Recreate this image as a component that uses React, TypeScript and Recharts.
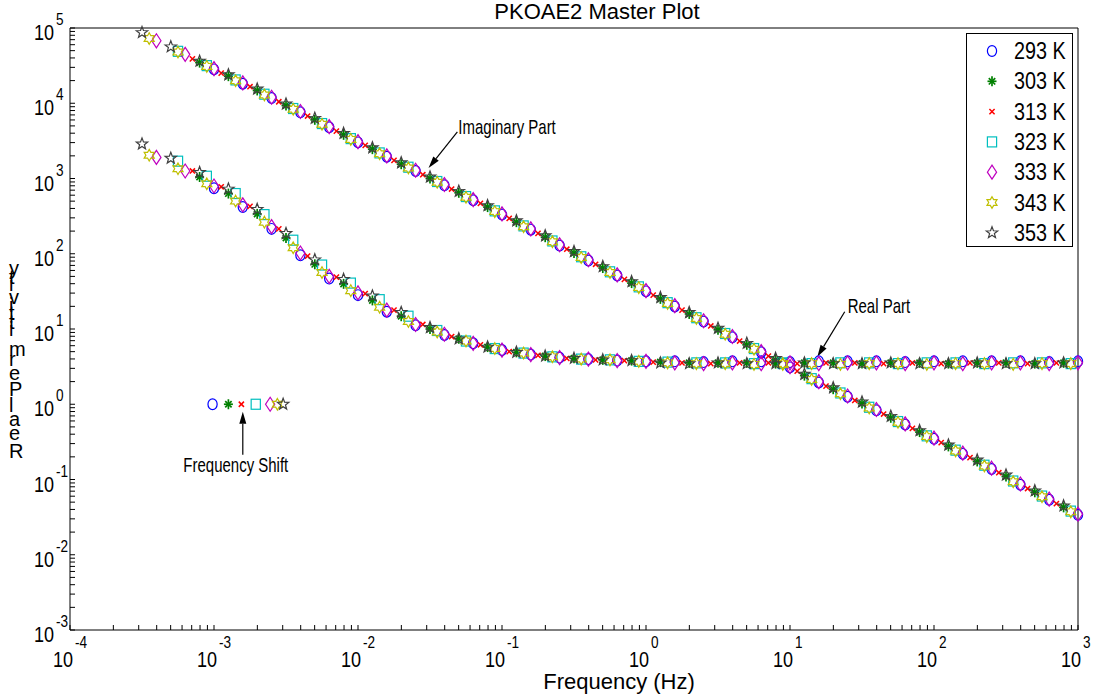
import React from 'react';
import { ScatterChart, Scatter, XAxis, YAxis, ReferenceLine, Legend } from 'recharts';

const FONT = '"Liberation Sans", Arial, sans-serif';

// values are log10(frequency / Hz) and log10(permittivity)
const LF_293 = [-3.0, -2.8, -2.6, -2.4, -2.2, -2.0, -1.8, -1.6, -1.4, -1.2, -1.0, -0.8, -0.6, -0.4, -0.2, 0, 0.2, 0.4, 0.6, 0.8, 1.0, 1.2, 1.4, 1.6, 1.8, 2.0, 2.2, 2.4, 2.6, 2.8, 3.0];
const RE_293 = [2.87, 2.62, 2.33, 1.98, 1.67, 1.45, 1.23, 1.05, 0.92, 0.81, 0.72, 0.66, 0.62, 0.60, 0.58, 0.57, 0.57, 0.56, 0.57, 0.57, 0.56, 0.57, 0.57, 0.57, 0.56, 0.57, 0.57, 0.57, 0.57, 0.56, 0.57];
const IM_293 = [4.45, 4.26, 4.07, 3.88, 3.68, 3.48, 3.29, 3.10, 2.91, 2.71, 2.52, 2.32, 2.11, 1.91, 1.71, 1.50, 1.30, 1.10, 0.89, 0.69, 0.49, 0.29, 0.10, -0.08, -0.27, -0.46, -0.66, -0.86, -1.07, -1.27, -1.47];

const LF_303 = [-3.1, -2.9, -2.7, -2.5, -2.3, -2.1, -1.9, -1.7, -1.5, -1.3, -1.1, -0.9, -0.7, -0.5, -0.3, -0.1, 0.1, 0.3, 0.5, 0.7, 0.9, 1.1, 1.3, 1.5, 1.7, 1.9, 2.1, 2.3, 2.5, 2.7, 2.9];
const RE_303 = [3.02, 2.80, 2.53, 2.21, 1.86, 1.60, 1.38, 1.17, 1.00, 0.87, 0.76, 0.69, 0.64, 0.61, 0.59, 0.58, 0.56, 0.55, 0.55, 0.55, 0.54, 0.55, 0.55, 0.54, 0.55, 0.55, 0.54, 0.55, 0.55, 0.54, 0.55];
const IM_303 = [4.54, 4.36, 4.17, 3.97, 3.78, 3.58, 3.39, 3.19, 3.00, 2.81, 2.62, 2.42, 2.22, 2.01, 1.81, 1.61, 1.40, 1.20, 0.99, 0.79, 0.59, 0.38, 0.20, 0.01, -0.18, -0.37, -0.56, -0.76, -0.96, -1.17, -1.37];

const LF_313 = [-3.15, -2.95, -2.75, -2.55, -2.35, -2.15, -1.95, -1.75, -1.55, -1.35, -1.15, -0.95, -0.75, -0.55, -0.35, -0.15, 0.05, 0.25, 0.45, 0.65, 0.85, 1.05, 1.25, 1.45, 1.65, 1.85, 2.05, 2.25, 2.45, 2.65, 2.85];
const RE_313 = [3.10, 2.89, 2.63, 2.33, 1.97, 1.69, 1.47, 1.25, 1.06, 0.90, 0.79, 0.70, 0.65, 0.61, 0.59, 0.58, 0.56, 0.55, 0.54, 0.55, 0.55, 0.54, 0.55, 0.55, 0.54, 0.55, 0.54, 0.55, 0.55, 0.54, 0.55];
const IM_313 = [4.59, 4.40, 4.22, 4.02, 3.83, 3.63, 3.44, 3.24, 3.05, 2.86, 2.67, 2.47, 2.27, 2.06, 1.86, 1.66, 1.45, 1.25, 1.04, 0.84, 0.64, 0.44, 0.24, 0.05, -0.13, -0.32, -0.51, -0.71, -0.91, -1.12, -1.32];

const LF_323 = [-3.25, -3.05, -2.85, -2.65, -2.45, -2.25, -2.05, -1.85, -1.65, -1.45, -1.25, -1.05, -0.85, -0.65, -0.45, -0.25, -0.05, 0.15, 0.35, 0.55, 0.75, 0.95, 1.15, 1.35, 1.55, 1.75, 1.95, 2.15, 2.35, 2.55, 2.75, 2.95];
const RE_323 = [3.23, 3.03, 2.80, 2.52, 2.18, 1.85, 1.61, 1.39, 1.17, 0.98, 0.84, 0.74, 0.68, 0.63, 0.60, 0.59, 0.57, 0.56, 0.55, 0.55, 0.54, 0.55, 0.54, 0.55, 0.55, 0.54, 0.55, 0.55, 0.54, 0.55, 0.55, 0.54];
const IM_323 = [4.69, 4.50, 4.31, 4.12, 3.93, 3.73, 3.53, 3.34, 3.15, 2.96, 2.76, 2.57, 2.37, 2.17, 1.96, 1.76, 1.56, 1.35, 1.15, 0.94, 0.74, 0.54, 0.34, 0.15, -0.04, -0.23, -0.42, -0.61, -0.81, -1.02, -1.22, -1.42];

const LF_333 = [-3.4, -3.2, -3.0, -2.8, -2.6, -2.4, -2.2, -2.0, -1.8, -1.6, -1.4, -1.2, -1.0, -0.8, -0.6, -0.4, -0.2, 0, 0.2, 0.4, 0.6, 0.8, 1.0, 1.2, 1.4, 1.6, 1.8, 2.0, 2.2, 2.4, 2.6, 2.8, 3.0];
const RE_333 = [3.28, 3.10, 2.90, 2.65, 2.36, 2.01, 1.70, 1.48, 1.25, 1.06, 0.93, 0.81, 0.72, 0.66, 0.62, 0.60, 0.58, 0.57, 0.55, 0.54, 0.55, 0.54, 0.55, 0.54, 0.55, 0.55, 0.54, 0.55, 0.54, 0.55, 0.55, 0.54, 0.55];
const IM_333 = [4.83, 4.65, 4.46, 4.27, 4.08, 3.89, 3.69, 3.49, 3.30, 3.11, 2.92, 2.72, 2.53, 2.33, 2.12, 1.92, 1.72, 1.51, 1.31, 1.11, 0.90, 0.70, 0.50, 0.30, 0.11, -0.07, -0.26, -0.45, -0.65, -0.85, -1.06, -1.26, -1.46];

const LF_343 = [-3.45, -3.25, -3.05, -2.85, -2.65, -2.45, -2.25, -2.05, -1.85, -1.65, -1.45, -1.25, -1.05, -0.85, -0.65, -0.45, -0.25, -0.05, 0.15, 0.35, 0.55, 0.75, 0.95, 1.15, 1.35, 1.55, 1.75, 1.95, 2.15, 2.35, 2.55, 2.75, 2.95];
const RE_343 = [3.31, 3.13, 2.93, 2.70, 2.42, 2.08, 1.75, 1.51, 1.29, 1.10, 0.96, 0.84, 0.74, 0.68, 0.63, 0.60, 0.59, 0.57, 0.55, 0.54, 0.54, 0.53, 0.54, 0.54, 0.53, 0.54, 0.54, 0.53, 0.54, 0.54, 0.53, 0.54, 0.54];
const IM_343 = [4.86, 4.68, 4.49, 4.30, 4.11, 3.92, 3.72, 3.52, 3.33, 3.14, 2.95, 2.75, 2.56, 2.36, 2.16, 1.95, 1.75, 1.55, 1.34, 1.14, 0.93, 0.73, 0.53, 0.33, 0.14, -0.05, -0.24, -0.43, -0.62, -0.82, -1.03, -1.23, -1.43];

const LF_353 = [-3.5, -3.3, -3.1, -2.9, -2.7, -2.5, -2.3, -2.1, -1.9, -1.7, -1.5, -1.3, -1.1, -0.9, -0.7, -0.5, -0.3, -0.1, 0.1, 0.3, 0.5, 0.7, 0.9, 1.1, 1.3, 1.5, 1.7, 1.9, 2.1, 2.3, 2.5, 2.7, 2.9];
const RE_353 = [3.46, 3.27, 3.08, 2.86, 2.59, 2.27, 1.92, 1.66, 1.44, 1.22, 1.02, 0.87, 0.76, 0.69, 0.64, 0.61, 0.59, 0.58, 0.55, 0.54, 0.55, 0.54, 0.54, 0.55, 0.54, 0.54, 0.55, 0.54, 0.54, 0.55, 0.54, 0.54, 0.55];
const IM_353 = [4.94, 4.75, 4.56, 4.38, 4.19, 3.99, 3.80, 3.60, 3.41, 3.21, 3.02, 2.83, 2.64, 2.44, 2.24, 2.03, 1.83, 1.63, 1.42, 1.22, 1.01, 0.81, 0.61, 0.40, 0.22, 0.03, -0.16, -0.35, -0.54, -0.74, -0.94, -1.15, -1.35];

// "Frequency Shift" inset: one point per temperature at permittivity 1
const SHIFT_LF = [-3.01, -2.9, -2.81, -2.71, -2.61, -2.56, -2.52];

const TEMPS = ['293 K', '303 K', '313 K', '323 K', '333 K', '343 K', '353 K'];
const MARKERS = ['circle', 'asterisk', 'cross', 'square', 'diamond', 'hexagram', 'pentagram'];
const COLORS = ['#0000ff', '#008000', '#ff0000', '#00bfbf', '#bf00bf', '#bfbf00', '#404040'];

const LF = [LF_293, LF_303, LF_313, LF_323, LF_333, LF_343, LF_353];
const RE = [RE_293, RE_303, RE_313, RE_323, RE_333, RE_343, RE_353];
const IM = [IM_293, IM_303, IM_313, IM_323, IM_333, IM_343, IM_353];

const X_EXP = [-4, -3, -2, -1, 0, 1, 2, 3];
const Y_EXP = [-3, -2, -1, 0, 1, 2, 3, 4, 5];
const MINOR = [2, 3, 4, 5, 6, 7, 8, 9];

// annotation arrows: tail -> tip, in log10 units
const NOTES = [
  { text: 'Imaginary Part', tail: [-1.31, 3.62], tip: [-1.51, 3.14], dx: 1, dy: 2, anchor: 'start' },
  { text: 'Real Part', tail: [1.38, 1.23], tip: [1.19, 0.63], dx: 3, dy: 1, anchor: 'start' },
  { text: 'Frequency Shift', tail: [-2.8, -0.67], tip: [-2.8, -0.1], dx: -7, dy: 17, anchor: 'middle' },
];

const logTicks = (exps: number[]) => {
  const out: number[] = [];
  exps.forEach((e, i) => {
    out.push(10 ** e);
    if (i < exps.length - 1) MINOR.forEach((m) => out.push(m * 10 ** e));
  });
  return out;
};
const X_TICKS = logTicks(X_EXP);
const Y_TICKS = logTicks(Y_EXP);

const SERIES = TEMPS.map((name, i) => ({
  name,
  marker: MARKERS[i],
  color: COLORS[i],
  data: [
    ...LF[i].map((lf, k) => ({ f: 10 ** lf, v: 10 ** RE[i][k] })),
    ...LF[i].map((lf, k) => ({ f: 10 ** lf, v: 10 ** IM[i][k] })),
    { f: 10 ** SHIFT_LF[i], v: 1 },
  ],
}));

const starPoints = (cx: number, cy: number, n: number, rOut: number, rIn: number) => {
  const pts: string[] = [];
  for (let k = 0; k < 2 * n; k++) {
    const r = k % 2 === 0 ? rOut : rIn;
    const a = -Math.PI / 2 + (k * Math.PI) / n;
    pts.push(`${(cx + r * Math.cos(a)).toFixed(2)},${(cy + r * Math.sin(a)).toFixed(2)}`);
  }
  return pts.join(' ');
};

const Marker = ({ kind, cx, cy, color }: { kind: string; cx: number; cy: number; color: string }) => {
  const common = { fill: 'none', stroke: color, strokeWidth: 1.2 };
  switch (kind) {
    case 'circle':
      return <ellipse cx={cx} cy={cy} rx={4.6} ry={5.4} {...common} />;
    case 'asterisk':
      return (
        <g stroke={color} strokeWidth={1.7}>
          <line x1={cx} y1={cy - 5} x2={cx} y2={cy + 5} />
          <line x1={cx - 4.5} y1={cy} x2={cx + 4.5} y2={cy} />
          <line x1={cx - 3.2} y1={cy - 3.2} x2={cx + 3.2} y2={cy + 3.2} />
          <line x1={cx - 3.2} y1={cy + 3.2} x2={cx + 3.2} y2={cy - 3.2} />
        </g>
      );
    case 'cross':
      return (
        <g stroke={color} strokeWidth={1.5}>
          <line x1={cx - 2.6} y1={cy - 2.6} x2={cx + 2.6} y2={cy + 2.6} />
          <line x1={cx - 2.6} y1={cy + 2.6} x2={cx + 2.6} y2={cy - 2.6} />
        </g>
      );
    case 'square':
      return <rect x={cx - 4.6} y={cy - 5} width={9.2} height={10} {...common} />;
    case 'diamond':
      return <polygon points={`${cx},${cy - 7} ${cx + 4.6},${cy} ${cx},${cy + 7} ${cx - 4.6},${cy}`} {...common} />;
    case 'hexagram':
      return <polygon points={starPoints(cx, cy, 6, 5.8, 3.3)} {...common} />;
    default:
      return <polygon points={starPoints(cx, cy, 5, 6, 2.5)} {...common} />;
  }
};

const Narrow = ({ x, y, size, sx = 0.85, anchor = 'start', children }: any) => (
  <text transform={`translate(${x},${y}) scale(${sx},1)`} fontSize={size} textAnchor={anchor} fontFamily={FONT} fill="#000">
    {children}
  </text>
);

const majorExp = (v: number) => {
  const l = Math.log10(v);
  const e = Math.round(l);
  return Math.abs(l - e) < 1e-6 ? e : null;
};

const XTick = (props: any) => {
  const { x, y, payload } = props;
  const e = majorExp(payload.value);
  if (e === null) return <g />;
  return (
    <g>
      <Narrow x={x + 3} y={y + 37} size={22} sx={0.82} anchor="end">10</Narrow>
      <Narrow x={x + 5} y={y + 18} size={16}>{e}</Narrow>
    </g>
  );
};

const YTick = (props: any) => {
  const { x, y, payload } = props;
  const e = majorExp(payload.value);
  if (e === null) return <g />;
  return (
    <g>
      <Narrow x={x - 16} y={y + 12} size={22} sx={0.82} anchor="end">10</Narrow>
      <Narrow x={x - 14} y={y - 3} size={16}>{e}</Narrow>
    </g>
  );
};

const NoTick = () => <g />;

const TitleText = () => (
  <text x={597} y={19} textAnchor="middle" fontSize={22} fontFamily={FONT} fill="#000">PKOAE2 Master Plot</text>
);

const XLabelText = () => (
  <text x={619} y={689} textAnchor="middle" fontSize={22} fontFamily={FONT} fill="#000">Frequency (Hz)</text>
);

// glyphs kept upright while the run goes bottom-to-top, as in the source figure
const YLabelText = () => (
  <text transform="translate(9,360) rotate(-90)" rotate="90" textAnchor="middle" fontSize={20} letterSpacing={3} fontFamily={FONT} fill="#000">
    Real Permittivity
  </text>
);

const arrowShape = (note: any) => (p: any) => {
  const { x1, y1, x2, y2 } = p;
  const ang = Math.atan2(y2 - y1, x2 - x1);
  const L = 12;
  const W = 3.5;
  const bx = x2 - L * Math.cos(ang);
  const by = y2 - L * Math.sin(ang);
  const px = -Math.sin(ang) * W;
  const py = Math.cos(ang) * W;
  return (
    <g>
      <line x1={x1} y1={y1} x2={bx} y2={by} stroke="#000" strokeWidth={1.2} />
      <polygon points={`${x2},${y2} ${bx + px},${by + py} ${bx - px},${by - py}`} fill="#000" />
      <Narrow x={x1 + note.dx} y={y1 + note.dy} size={20} sx={0.75} anchor={note.anchor}>{note.text}</Narrow>
    </g>
  );
};

const LegendBox = () => (
  <div style={{ width: 107, height: 214, border: '1px solid #000', background: '#fff', boxSizing: 'border-box' }}>
    <svg width={105} height={212} style={{ display: 'block' }}>
      {SERIES.map((s, i) => {
        const cy = 17 + i * 30.3;
        return (
          <g key={s.name}>
            <Marker kind={s.marker} cx={25} cy={cy} color={s.color} />
            <Narrow x={47} y={cy + 8} size={23} sx={0.86}>{s.name}</Narrow>
          </g>
        );
      })}
    </svg>
  </div>
);

const App: React.FC = () => {
  return (
    <div style={{ position: 'absolute', left: 0, top: 0, fontFamily: FONT, background: '#fff' }}>
      <ScatterChart width={1093} height={696} margin={{ top: 27, right: 14, bottom: 0, left: 0 }}>
        <XAxis
          dataKey="f"
          type="number"
          scale="log"
          domain={[1e-4, 1e3]}
          ticks={X_TICKS}
          interval={0}
          height={66}
          tickSize={-5}
          tickMargin={5}
          tick={XTick}
          axisLine={{ stroke: '#000' }}
          tickLine={{ stroke: '#000' }}
          label={<XLabelText />}
        />
        <XAxis
          xAxisId="top"
          orientation="top"
          dataKey="f"
          type="number"
          scale="log"
          domain={[1e-4, 1e3]}
          ticks={X_TICKS}
          interval={0}
          height={1}
          tickSize={-5}
          tick={NoTick}
          axisLine={{ stroke: '#000' }}
          tickLine={{ stroke: '#000' }}
          label={<TitleText />}
        />
        <YAxis
          dataKey="v"
          type="number"
          scale="log"
          domain={[1e-3, 1e5]}
          ticks={Y_TICKS}
          interval={0}
          width={70}
          tickSize={-5}
          tickMargin={5}
          tick={YTick}
          axisLine={{ stroke: '#000' }}
          tickLine={{ stroke: '#000' }}
          label={<YLabelText />}
        />
        <YAxis
          yAxisId="right"
          orientation="right"
          dataKey="v"
          type="number"
          scale="log"
          domain={[1e-3, 1e5]}
          ticks={Y_TICKS}
          interval={0}
          width={1}
          tickSize={-5}
          tick={NoTick}
          axisLine={{ stroke: '#000' }}
          tickLine={{ stroke: '#000' }}
        />
        {SERIES.map((s) => (
          <Scatter
            key={s.name}
            name={s.name}
            data={s.data}
            isAnimationActive={false}
            shape={(p: any) => <Marker kind={s.marker} cx={p.cx} cy={p.cy} color={s.color} />}
          />
        ))}
        {NOTES.map((n) => (
          <ReferenceLine
            key={n.text}
            segment={[
              { x: 10 ** n.tail[0], y: 10 ** n.tail[1] },
              { x: 10 ** n.tip[0], y: 10 ** n.tip[1] },
            ]}
            shape={arrowShape(n)}
          />
        ))}
        <Legend
          layout="vertical"
          align="center"
          verticalAlign="middle"
          content={<LegendBox />}
          wrapperStyle={{ left: 966, top: 33, width: 107, height: 214 }}
        />
      </ScatterChart>
    </div>
  );
};

export default App;
